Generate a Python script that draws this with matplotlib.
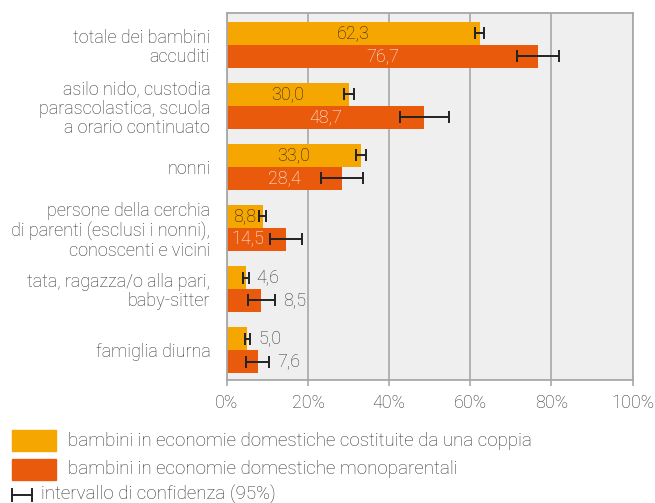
import matplotlib
matplotlib.use("Agg")
import matplotlib.pyplot as plt
from matplotlib.patches import Rectangle
from matplotlib.lines import Line2D
import numpy as np

plt.rcParams['font.family'] = ['Roboto', 'DejaVu Sans']

categories = [
    "totale dei bambini\naccuditi",
    "asilo nido, custodia\nparascolastica, scuola\na orario continuato",
    "nonni",
    "persone della cerchia\ndi parenti (esclusi i nonni),\nconoscenti e vicini",
    "tata, ragazza/o alla pari,\nbaby-sitter",
    "famiglia diurna",
]
couple = [62.3, 30.0, 33.0, 8.8, 4.6, 5.0]
couple_ci = [1.2, 1.2, 1.2, 0.9, 0.75, 0.65]
single = [76.7, 48.7, 28.4, 14.5, 8.5, 7.6]
single_ci = [5.2, 6.0, 5.2, 4.0, 3.3, 2.85]
xticks = [0, 20, 40, 60, 80, 100]
xticklabels = ["0%", "20%", "40%", "60%", "80%", "100%"]
legend_labels = [
    "bambini in economie domestiche costituite da una coppia",
    "bambini in economie domestiche monoparentali",
    "intervallo di confidenza (95%)",
]

C_OR = "#F6A600"
C_RD = "#E95A0C"
TXT = "#333333"
GRID = "#a8a8a8"
FW = 'light'

fig = plt.figure(figsize=(6.55, 5.03), dpi=100)
ax = fig.add_axes([227/655, 1-380/503, (632.5-227)/655, (380-13)/503])
ax.set_facecolor("#efefef")

y = np.arange(len(categories))
h = 0.375
ax.barh(y - h/2, couple, height=h, color=C_OR, zorder=2)
ax.barh(y + h/2, single, height=h, color=C_RD, zorder=2)
ekw = dict(fmt='none', ecolor="#222222", elinewidth=1.4, capsize=4.3, capthick=1.4, zorder=3)
ax.errorbar(couple, y - h/2, xerr=couple_ci, **ekw)
ax.errorbar(single, y + h/2, xerr=single_ci, **ekw)

def fmt(v):
    return f"{v:.1f}".replace(".", ",")

for vals, cis, off, col in [(couple, couple_ci, -h/2, "#222222"), (single, single_ci, h/2, "white")]:
    for i, (v, c) in enumerate(zip(vals, cis)):
        if v >= 8.7:
            xpos = v/2
            if 12 < v < 20:
                xpos = v/2 - 2
            ax.text(xpos, i + off, fmt(v), ha='center', va='center', color=col,
                    fontsize=13, fontweight=FW, zorder=4)
        else:
            ax.text(v + c + 2.0, i + off, fmt(v), ha='left', va='center', color=TXT,
                    fontsize=13, fontweight=FW, zorder=4)

ax.set_xlim(0, 100)
ax.set_ylim(5.49, -0.52)
ax.set_xticks(xticks)
ax.set_xticklabels(xticklabels, fontsize=13, color=TXT, fontweight=FW)
ax.set_yticks(y)
ax.set_yticklabels(categories, fontsize=13, color=TXT, fontweight=FW, linespacing=1.1)
for t in ax.get_yticklabels():
    t.set_multialignment('right')
ax.tick_params(axis='y', length=0, pad=12)
ax.tick_params(axis='x', length=4, width=1.2, color=GRID, pad=6)
ax.grid(axis='x', color=GRID, linewidth=1.2, zorder=0)
ax.set_axisbelow(True)
for s in ax.spines.values():
    s.set_color(GRID)
    s.set_linewidth(1.3)

# legend (manual)
fig.patches.append(Rectangle((12/655, 1-451/503), 44/655, 21/503, transform=fig.transFigure, color=C_OR))
fig.patches.append(Rectangle((12/655, 1-480/503), 44/655, 21/503, transform=fig.transFigure, color=C_RD))
fig.text(68/655, 1-440.5/503, legend_labels[0], fontsize=13.5, color=TXT, va='center', fontweight=FW)
fig.text(68/655, 1-469.5/503, legend_labels[1], fontsize=13.5, color=TXT, va='center', fontweight=FW)
yl = 1-495/503
fig.lines.append(Line2D([12/655, 32/655], [yl, yl], transform=fig.transFigure, color="#222222", lw=1.4))
for xx in (12, 32):
    fig.lines.append(Line2D([xx/655, xx/655], [yl-6/503, yl+6/503], transform=fig.transFigure, color="#222222", lw=1.4))
fig.text(41/655, yl, legend_labels[2], fontsize=13.5, color=TXT, va='center', fontweight=FW)

fig.savefig("out.png", dpi=100)
